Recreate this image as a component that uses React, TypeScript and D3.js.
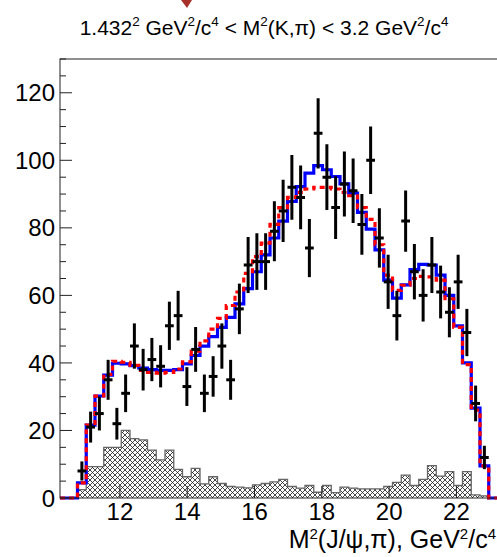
import React from 'react';
import * as d3 from 'd3';

// Histogram binning along M^2(J/psi,pi), GeV^2/c^4
const X_MIN = 10.22;
const X_MAX = 23.22;
const BIN_WIDTH = 0.26;
const Y_MAX = 130;

// Observed events per bin, first filled bin is FIRST_DATA_BIN
const FIRST_DATA_BIN = 2;
const observedCounts = [
  8, 21, 25, 35, 22, 31, 45, 38, 41, 39, 51, 54, 33, 44, 31, 36, 45, 35, 56, 69,
  70, 70, 79, 85, 92, 89, 74, 108, 95, 86, 93, 91, 81, 100, 77, 64, 54, 82, 67, 60,
  69, 61, 55, 64, 49, 28, 12,
];

// Nominal fit projection (solid blue)
const fitNominal = [
  0, 0, 4.5, 21.6, 30.2, 36.4, 39.9, 39.7, 39.2, 38.5,
  38, 37.8, 37.8, 38, 39.7, 42.2, 45, 47.8, 50.5, 53.5,
  57.5, 62, 67, 72, 77, 82, 87.8, 92.2, 96.2, 98.4,
  97.2, 95.2, 93, 90.3, 84.6, 79.6, 73.5, 64.5, 59.2, 63.1,
  67.6, 69.2, 69, 66, 60, 51, 40, 26.6, 9.5, 0,
];

// Alternative fit projection (dashed red)
const fitAlternative = [
  0, 0, 4.5, 21.6, 30.2, 36.6, 40.5, 40.2, 39.3, 37.8,
  37.2, 37, 37.2, 38.2, 40.3, 43.5, 46.5, 50, 53.2, 57,
  61, 66.5, 71.5, 75.5, 81, 86, 89, 90.5, 91.5, 92,
  92, 91.5, 90.5, 89.5, 86, 82.5, 75, 66, 61.5, 63,
  65, 65.6, 65.5, 64.5, 59, 50.5, 39.5, 26, 9.5, 0,
];

// Background component (hatched)
const backgroundYield = [
  0, 0, 2.5, 9.3, 9.3, 15, 15, 20, 17.6, 17.2,
  14.2, 11.3, 14.2, 8.5, 6.3, 8.8, 4.2, 6.3, 4.3, 3.4,
  3.2, 3.0, 3.9, 4.3, 4.8, 5.5, 3.4, 2.9, 3.7, 1.7,
  3.7, 1.6, 3.2, 2.9, 2.7, 2.7, 2.7, 3.4, 4.6, 6.8,
  3.7, 5.5, 9.6, 6.5, 7.8, 3.7, 7.8, 0.9, 0.6, 0,
];

const xTickValues = [12, 14, 16, 18, 20, 22];
const yTickValues = [0, 20, 40, 60, 80, 100, 120];
const yMinorStep = 5;

type Seg = { t: string; sup?: boolean };

const titleText: Seg[] = [
  { t: '1.432' }, { t: '2', sup: true }, { t: ' GeV' }, { t: '2', sup: true },
  { t: '/c' }, { t: '4', sup: true }, { t: ' < M' }, { t: '2', sup: true },
  { t: '(K,\u03c0) < 3.2 GeV' }, { t: '2', sup: true }, { t: '/c' }, { t: '4', sup: true },
];

const xTitleText: Seg[] = [
  { t: 'M' }, { t: '2', sup: true }, { t: '(J/\u03c8,\u03c0), GeV' }, { t: '2', sup: true },
  { t: '/c' }, { t: '4', sup: true },
];

const FONT = "'Liberation Sans', Arial, Helvetica, sans-serif";

function RichText({
  segs, x, y, size, anchor, supScale = 0.64, supShift = 0.42,
}: { segs: Seg[]; x: number; y: number; size: number; anchor: string; supScale?: number; supShift?: number }) {
  const shift = size * supShift;
  let raised = false;
  return (
    <text x={x} y={y} fontSize={size} fontFamily={FONT} textAnchor={anchor} fill="#000">
      {segs.map((s, i) => {
        let dy = 0;
        if (s.sup && !raised) { dy = -shift; raised = true; }
        else if (!s.sup && raised) { dy = shift; raised = false; }
        return (
          <tspan key={i} dy={dy} fontSize={s.sup ? size * supScale : size}>{s.t}</tspan>
        );
      })}
    </text>
  );
}

export default function App() {
  const W = 497;
  const H = 557;
  const left = 60;
  const right = 497.5;
  const top = 59;
  const bottom = 498;

  const x = d3.scaleLinear().domain([X_MIN, X_MAX]).range([left, right]);
  const y = d3.scaleLinear().domain([0, Y_MAX]).range([bottom, top]);

  const nBins = fitNominal.length;
  const edges = d3.range(nBins + 1).map((i) => X_MIN + i * BIN_WIDTH);

  const stepPoints = (vals: number[]) => {
    const pts: [number, number][] = [];
    vals.forEach((v, i) => {
      pts.push([edges[i], v]);
      pts.push([edges[i + 1], v]);
    });
    return pts;
  };

  const line = d3.line<[number, number]>().x((d) => x(d[0])).y((d) => y(d[1]));
  const area = d3
    .area<[number, number]>()
    .x((d) => x(d[0]))
    .y0(y(0))
    .y1((d) => y(d[1]));

  const bkgPts = stepPoints(backgroundYield);
  const bkgOutline: [number, number][] = [[edges[0], 0], ...bkgPts, [edges[nBins], 0]];

  const points = observedCounts.map((n, k) => {
    const i = k + FIRST_DATA_BIN;
    const c = X_MIN + (i + 0.5) * BIN_WIDTH;
    const err = Math.sqrt(n);
    return { c, n, err, lo: X_MIN + i * BIN_WIDTH, hi: X_MIN + (i + 1) * BIN_WIDTH };
  });

  const yMinor = d3.range(0, Y_MAX + 0.001, yMinorStep).filter((v) => v % 20 !== 0);

  return (
    <svg
      width={W}
      height={H}
      style={{ position: 'absolute', left: 0, top: 0, background: '#fff' }}
    >
      <defs>
        <pattern id="xhatch" patternUnits="userSpaceOnUse" width={5} height={5}>
          <path d="M0,0 L5,5 M5,0 L0,5 M-1,4 L1,6 M4,-1 L6,1 M-1,1 L1,-1 M4,6 L6,4" stroke="#1a1a1a" strokeWidth={0.8} fill="none" />
        </pattern>
        <clipPath id="frameClip">
          <rect x={left} y={top - 2} width={right - left} height={bottom - top + 4} />
        </clipPath>
      </defs>

      <rect x={0} y={0} width={W} height={H} fill="#fff" />

      {/* arrow tip from the panel above */}
      <polygon points="181,0 192,0 187,8" fill="#a8302a" />

      <RichText segs={titleText} x={264} y={35} size={21} anchor="middle" />

      <g clipPath="url(#frameClip)">
        {/* background component */}
        <path d={area(bkgPts) ?? ''} fill="url(#xhatch)" />
        <path d={line(bkgOutline) ?? ''} fill="none" stroke="#666" strokeWidth={1.3} />

        {/* fit projections */}
        <path d={line(stepPoints(fitNominal)) ?? ''} fill="none" stroke="#0000ff" strokeWidth={3.2} />
        <path
          d={line(stepPoints(fitAlternative)) ?? ''}
          fill="none"
          stroke="#ff0000"
          strokeWidth={3.2}
          strokeDasharray="5,4"
        />

        {/* data */}
        {points.map((p, i) => (
          <g key={i} stroke="#000" strokeWidth={3}>
            <line x1={x(p.lo)} x2={x(p.hi)} y1={y(p.n)} y2={y(p.n)} />
            <line x1={x(p.c)} x2={x(p.c)} y1={y(p.n - p.err)} y2={y(p.n + p.err)} />
          </g>
        ))}
      </g>

      {/* frame */}
      <rect x={left} y={top} width={right - left} height={bottom - top} fill="none" stroke="#222" strokeWidth={1} />

      {/* y axis */}
      {yTickValues.map((v) => (
        <g key={v}>
          <line x1={left} x2={left + 12} y1={y(v)} y2={y(v)} stroke="#222" strokeWidth={1} />
          <text x={55} y={y(v)} dy="0.36em" textAnchor="end" fontSize={24} fontFamily={FONT} fill="#000">
            {v}
          </text>
        </g>
      ))}
      {yMinor.map((v) => (
        <line key={v} x1={left} x2={left + 6} y1={y(v)} y2={y(v)} stroke="#222" strokeWidth={1} />
      ))}

      {/* x axis */}
      {xTickValues.map((v) => (
        <g key={v}>
          <line x1={x(v)} x2={x(v)} y1={bottom} y2={bottom - 12} stroke="#222" strokeWidth={1} />
          <text x={x(v)} y={520} textAnchor="middle" fontSize={24} fontFamily={FONT} fill="#000">
            {v}
          </text>
        </g>
      ))}

      <RichText segs={xTitleText} x={496} y={548} size={25} anchor="end" supScale={0.6} supShift={0.36} />
    </svg>
  );
}
